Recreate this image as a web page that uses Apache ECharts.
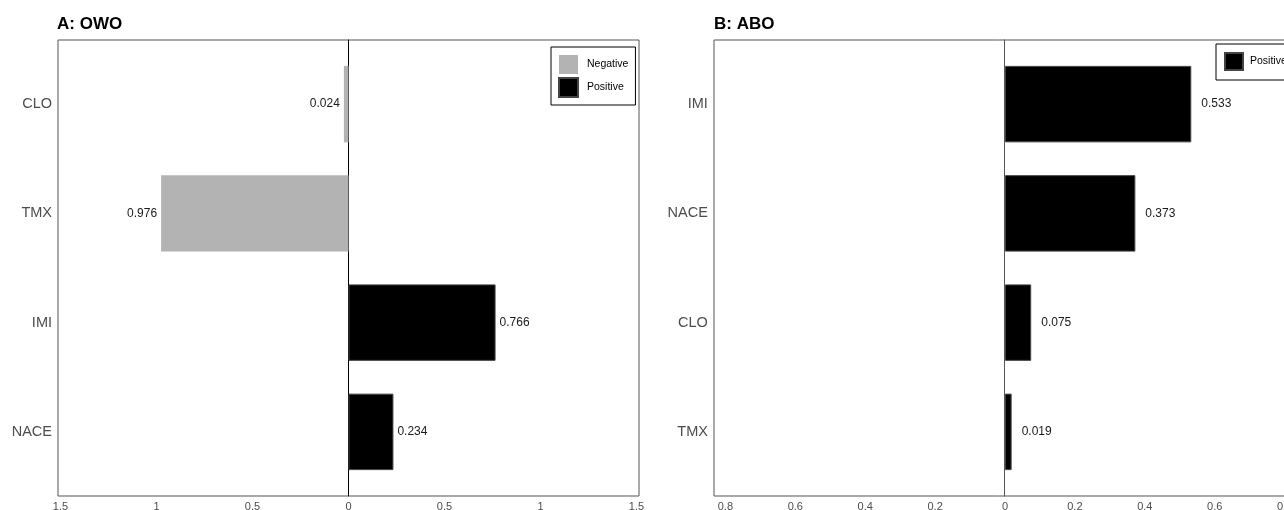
<!DOCTYPE html>
<html>
<head>
<meta charset="utf-8">
<script src="https://cdn.jsdelivr.net/npm/echarts@6/dist/echarts.min.js"></script>
<style>
  html, body { margin: 0; padding: 0; background: #fff; }
  #chart { width: 1284px; height: 510px; }
</style>
</head>
<body>
<div id="chart"></div>
<script>
// Panel A: OWO — signed contributions
const categoriesA = ['CLO', 'TMX', 'IMI', 'NACE'];
const valuesA = [-0.024, -0.976, 0.766, 0.234];
// Panel B: ABO — all positive
const categoriesB = ['IMI', 'NACE', 'CLO', 'TMX'];
const valuesB = [0.533, 0.373, 0.075, 0.019];
// Axis ticks (labels are shown as magnitudes)
const ticksA = [-1.5, -1, -0.5, 0, 0.5, 1, 1.5];
const ticksB = [-0.8, -0.6, -0.4, -0.2, 0, 0.2, 0.4, 0.6, 0.8];

const FONT = "'Liberation Sans', Arial, Helvetica, sans-serif";
const absFmt = v => String(+Math.abs(v).toFixed(3));
const labelFmt = p => Math.abs(p.value).toFixed(3);

const chart = echarts.init(document.getElementById('chart'), null, { renderer: 'canvas' });

function frameAxes(gridIndex, half, zeroColor) {
  return {
    x: {
      gridIndex, type: 'value', min: -half, max: half,
      axisLine: { show: false }, axisTick: { show: false },
      axisLabel: { show: false }, splitLine: { show: false }
    },
    y: {
      gridIndex, type: 'value', min: 0, max: 1,
      axisLine: { show: true, onZero: true, lineStyle: { color: zeroColor, width: 1 } },
      axisTick: { show: false }, axisLabel: { show: false }, splitLine: { show: false }
    }
  };
}

function dataAxes(gridIndex, ticks, cats, labelMargin) {
  return {
    x: {
      gridIndex, type: 'value',
      min: ticks[0], max: ticks[ticks.length - 1],
      interval: +(ticks[1] - ticks[0]).toFixed(6),
      axisLine: { show: false }, axisTick: { show: false }, splitLine: { show: false },
      axisLabel: { formatter: absFmt, color: '#4d4d4d', fontSize: 11, fontFamily: FONT, margin: 14.5 }
    },
    y: {
      gridIndex, type: 'category', data: cats, inverse: true,
      axisLine: { show: false }, axisTick: { show: false }, splitLine: { show: false },
      axisLabel: { color: '#4d4d4d', fontSize: 14.5, fontFamily: FONT, margin: labelMargin }
    }
  };
}

const fA = frameAxes(0, 1.513, '#000');
const dA = dataAxes(1, ticksA, categoriesA, 8.5);
const fB = frameAxes(2, 0.832, '#555');
const dB = dataAxes(3, ticksB, categoriesB, 17.5);

const labelStyle = { color: '#1a1a1a', fontSize: 12, fontFamily: FONT };
const gridBase = { outerBoundsMode: 'none', containLabel: false };

const option = {
  animation: false,
  backgroundColor: '#fff',
  title: [
    { text: 'A: OWO', left: 57, top: 16, padding: 0,
      textStyle: { fontSize: 17, fontWeight: 'bold', color: '#000', fontFamily: FONT } },
    { text: 'B: ABO', left: 714, top: 16, padding: 0,
      textStyle: { fontSize: 17, fontWeight: 'bold', color: '#000', fontFamily: FONT } }
  ],
  grid: [
    { ...gridBase, left: 58, top: 40, width: 581, height: 456, show: true, borderColor: '#555', borderWidth: 1, backgroundColor: 'transparent' },
    { ...gridBase, left: 60.5, top: 49.5, width: 576, height: 437 },
    { ...gridBase, left: 714, top: 40, width: 581.4, height: 456, show: true, borderColor: '#555', borderWidth: 1, backgroundColor: 'transparent' },
    { ...gridBase, left: 725.4, top: 49.5, width: 559.2, height: 437 }
  ],
  xAxis: [fA.x, dA.x, fB.x, dB.x],
  yAxis: [fA.y, dA.y, fB.y, dB.y],
  legend: [
    {
      data: ['Negative', 'Positive'], orient: 'vertical', left: 551, top: 47,
      itemWidth: 19, itemHeight: 19, itemGap: 3, icon: 'rect',
      padding: [8, 7, 7, 7], borderColor: '#000', borderWidth: 1,
      selectedMode: false,
      textStyle: { fontSize: 10.5, color: '#000', fontFamily: FONT, padding: [0, 0, 0, 4] }
    },
    {
      data: ['Positive'], orient: 'vertical', left: 1216, top: 44,
      itemWidth: 18, itemHeight: 17, icon: 'rect',
      padding: [8, 7, 9, 8], borderColor: '#000', borderWidth: 1,
      selectedMode: false,
      textStyle: { fontSize: 10.5, color: '#000', fontFamily: FONT, padding: [0, 0, 0, 2] }
    }
  ],
  series: [
    {
      name: 'Negative', type: 'bar', xAxisIndex: 1, yAxisIndex: 1,
      data: valuesA.map(v => (v < 0 ? v : null)),
      barWidth: '70%', barGap: '-100%',
      itemStyle: { color: '#b3b3b3', borderWidth: 0 },
      label: { show: true, position: 'left', distance: 4, formatter: labelFmt, ...labelStyle }
    },
    {
      name: 'Positive', type: 'bar', xAxisIndex: 1, yAxisIndex: 1,
      data: valuesA.map(v => (v >= 0 ? v : null)),
      barWidth: '70%', barGap: '-100%',
      itemStyle: { color: '#000', borderColor: '#444', borderWidth: 1 },
      label: { show: true, position: 'right', distance: 4, formatter: labelFmt, ...labelStyle }
    },
    {
      name: 'Positive', type: 'bar', xAxisIndex: 3, yAxisIndex: 3,
      data: valuesB,
      barWidth: '70%',
      itemStyle: { color: '#000', borderColor: '#444', borderWidth: 1 },
      label: { show: true, position: 'right', distance: 10, formatter: labelFmt, ...labelStyle }
    }
  ]
};

chart.setOption(option);
</script>
</body>
</html>
